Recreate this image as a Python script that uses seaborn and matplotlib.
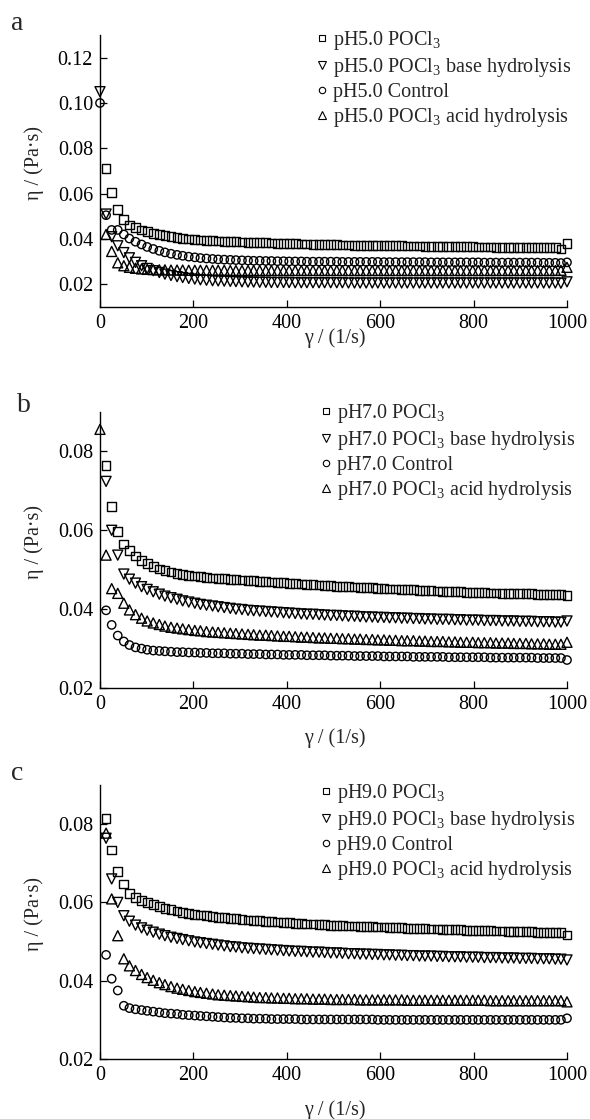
import numpy as np
import pandas as pd
import matplotlib.pyplot as plt
import seaborn as sns
from matplotlib.lines import Line2D

nan = np.nan

# shear rate (1/s), shared by all series
gamma = [0, 13, 25, 38, 51, 63, 76, 89, 101, 114,
         127, 139, 152, 165, 177, 190, 203, 215, 228, 241,
         253, 266, 279, 291, 304, 317, 329, 342, 355, 367,
         380, 393, 405, 418, 431, 443, 456, 469, 481, 494,
         507, 519, 532, 545, 557, 570, 583, 595, 608, 620,
         633, 646, 658, 671, 684, 696, 709, 722, 734, 747,
         760, 772, 785, 798, 810, 823, 836, 848, 861, 874,
         886, 899, 912, 924, 937, 950, 962, 975, 987, 1000]

# --- panel a: pH 5.0 ---
ph5_pocl3 = [nan, 0.0712, 0.0605, 0.0530, 0.0485, 0.0462, 0.0450, 0.0440, 0.0432, 0.0425,
             0.0419, 0.0414, 0.0410, 0.0406, 0.0403, 0.0400, 0.0398, 0.0396, 0.0394, 0.0392,
             0.0391, 0.0390, 0.0389, 0.0388, 0.0387, 0.0386, 0.0385, 0.0384, 0.0383, 0.0382,
             0.0381, 0.0380, 0.0380, 0.0379, 0.0378, 0.0378, 0.0377, 0.0376, 0.0376, 0.0375,
             0.0375, 0.0374, 0.0374, 0.0373, 0.0373, 0.0372, 0.0372, 0.0371, 0.0371, 0.0370,
             0.0370, 0.0370, 0.0369, 0.0369, 0.0369, 0.0368, 0.0368, 0.0368, 0.0367, 0.0367,
             0.0367, 0.0366, 0.0366, 0.0366, 0.0365, 0.0365, 0.0365, 0.0364, 0.0364, 0.0364,
             0.0363, 0.0363, 0.0363, 0.0362, 0.0362, 0.0362, 0.0361, 0.0361, 0.0356, 0.0381]
ph5_base = [0.1050, 0.0510, 0.0410, 0.0370, 0.0340, 0.0317, 0.0297, 0.0282, 0.0270, 0.0260,
            0.0252, 0.0245, 0.0239, 0.0234, 0.0230, 0.0226, 0.0223, 0.0220, 0.0218, 0.0216,
            0.0215, 0.0214, 0.0213, 0.0212, 0.0211, 0.0210, 0.0210, 0.0209, 0.0209, 0.0208,
            0.0208, 0.0208, 0.0208, 0.0207, 0.0207, 0.0207, 0.0207, 0.0207, 0.0207, 0.0207,
            0.0207, 0.0207, 0.0206, 0.0206, 0.0206, 0.0206, 0.0206, 0.0206, 0.0206, 0.0206,
            0.0206, 0.0206, 0.0206, 0.0206, 0.0206, 0.0206, 0.0206, 0.0206, 0.0206, 0.0206,
            0.0206, 0.0206, 0.0206, 0.0206, 0.0206, 0.0206, 0.0206, 0.0206, 0.0206, 0.0206,
            0.0206, 0.0206, 0.0206, 0.0206, 0.0206, 0.0206, 0.0206, 0.0206, 0.0205, 0.0211]
ph5_control = [0.1000, 0.0505, 0.0440, 0.0440, 0.0420, 0.0402, 0.0388, 0.0376, 0.0365, 0.0356,
               0.0348, 0.0341, 0.0335, 0.0330, 0.0326, 0.0322, 0.0319, 0.0316, 0.0314, 0.0312,
               0.0310, 0.0309, 0.0308, 0.0307, 0.0306, 0.0305, 0.0304, 0.0304, 0.0303, 0.0303,
               0.0302, 0.0302, 0.0301, 0.0301, 0.0301, 0.0300, 0.0300, 0.0300, 0.0300, 0.0300,
               0.0300, 0.0299, 0.0299, 0.0299, 0.0299, 0.0299, 0.0299, 0.0299, 0.0298, 0.0298,
               0.0298, 0.0298, 0.0298, 0.0298, 0.0298, 0.0298, 0.0297, 0.0297, 0.0297, 0.0297,
               0.0297, 0.0297, 0.0297, 0.0297, 0.0297, 0.0296, 0.0296, 0.0296, 0.0296, 0.0296,
               0.0296, 0.0296, 0.0296, 0.0296, 0.0296, 0.0295, 0.0295, 0.0295, 0.0294, 0.0297]
ph5_acid = [nan, 0.0420, 0.0345, 0.0295, 0.0282, 0.0275, 0.0271, 0.0268, 0.0266, 0.0265,
            0.0264, 0.0264, 0.0263, 0.0263, 0.0263, 0.0262, 0.0262, 0.0262, 0.0262, 0.0262,
            0.0262, 0.0262, 0.0261, 0.0261, 0.0261, 0.0261, 0.0261, 0.0261, 0.0261, 0.0261,
            0.0261, 0.0261, 0.0261, 0.0261, 0.0261, 0.0261, 0.0261, 0.0261, 0.0261, 0.0261,
            0.0261, 0.0261, 0.0261, 0.0261, 0.0261, 0.0261, 0.0261, 0.0261, 0.0261, 0.0261,
            0.0261, 0.0261, 0.0261, 0.0261, 0.0261, 0.0261, 0.0261, 0.0261, 0.0261, 0.0261,
            0.0261, 0.0261, 0.0261, 0.0261, 0.0261, 0.0261, 0.0261, 0.0261, 0.0261, 0.0261,
            0.0261, 0.0261, 0.0261, 0.0261, 0.0261, 0.0261, 0.0261, 0.0261, 0.0262, 0.0275]

# --- panel b: pH 7.0 ---
ph7_pocl3 = [nan, 0.0765, 0.0660, 0.0597, 0.0565, 0.0548, 0.0535, 0.0524, 0.0515, 0.0508,
             0.0502, 0.0498, 0.0494, 0.0491, 0.0488, 0.0486, 0.0484, 0.0482, 0.0480, 0.0479,
             0.0478, 0.0477, 0.0476, 0.0475, 0.0474, 0.0473, 0.0472, 0.0471, 0.0470, 0.0469,
             0.0468, 0.0467, 0.0466, 0.0465, 0.0464, 0.0463, 0.0462, 0.0461, 0.0460, 0.0459,
             0.0458, 0.0457, 0.0457, 0.0456, 0.0455, 0.0454, 0.0454, 0.0453, 0.0452, 0.0451,
             0.0451, 0.0450, 0.0449, 0.0449, 0.0448, 0.0447, 0.0447, 0.0446, 0.0445, 0.0445,
             0.0444, 0.0444, 0.0443, 0.0443, 0.0442, 0.0442, 0.0441, 0.0441, 0.0440, 0.0440,
             0.0440, 0.0439, 0.0439, 0.0439, 0.0438, 0.0438, 0.0438, 0.0437, 0.0437, 0.0435]
ph7_base = [nan, 0.0724, 0.0600, 0.0537, 0.0489, 0.0476, 0.0466, 0.0457, 0.0450, 0.0444,
            0.0438, 0.0433, 0.0429, 0.0425, 0.0421, 0.0418, 0.0415, 0.0412, 0.0410, 0.0408,
            0.0406, 0.0404, 0.0402, 0.0400, 0.0399, 0.0397, 0.0396, 0.0395, 0.0394, 0.0393,
            0.0392, 0.0391, 0.0390, 0.0389, 0.0388, 0.0387, 0.0387, 0.0386, 0.0385, 0.0384,
            0.0384, 0.0383, 0.0382, 0.0382, 0.0381, 0.0380, 0.0380, 0.0379, 0.0379, 0.0378,
            0.0378, 0.0377, 0.0377, 0.0376, 0.0376, 0.0375, 0.0375, 0.0374, 0.0374, 0.0374,
            0.0373, 0.0373, 0.0372, 0.0372, 0.0372, 0.0371, 0.0371, 0.0371, 0.0370, 0.0370,
            0.0370, 0.0369, 0.0369, 0.0369, 0.0368, 0.0368, 0.0368, 0.0367, 0.0367, 0.0370]
ph7_control = [nan, 0.0397, 0.0360, 0.0333, 0.0318, 0.0309, 0.0303, 0.0300, 0.0297, 0.0295,
               0.0294, 0.0293, 0.0292, 0.0291, 0.0291, 0.0290, 0.0290, 0.0289, 0.0289, 0.0288,
               0.0288, 0.0288, 0.0287, 0.0287, 0.0287, 0.0286, 0.0286, 0.0286, 0.0285, 0.0285,
               0.0285, 0.0284, 0.0284, 0.0284, 0.0284, 0.0283, 0.0283, 0.0283, 0.0283, 0.0282,
               0.0282, 0.0282, 0.0282, 0.0281, 0.0281, 0.0281, 0.0281, 0.0281, 0.0280, 0.0280,
               0.0280, 0.0280, 0.0280, 0.0279, 0.0279, 0.0279, 0.0279, 0.0279, 0.0279, 0.0278,
               0.0278, 0.0278, 0.0278, 0.0278, 0.0278, 0.0278, 0.0277, 0.0277, 0.0277, 0.0277,
               0.0277, 0.0277, 0.0277, 0.0277, 0.0276, 0.0276, 0.0276, 0.0276, 0.0276, 0.0271]
ph7_acid = [0.0856, 0.0537, 0.0452, 0.0440, 0.0415, 0.0398, 0.0386, 0.0377, 0.0370, 0.0365,
            0.0361, 0.0357, 0.0354, 0.0352, 0.0350, 0.0348, 0.0346, 0.0345, 0.0343, 0.0342,
            0.0341, 0.0340, 0.0339, 0.0338, 0.0337, 0.0336, 0.0335, 0.0334, 0.0334, 0.0333,
            0.0332, 0.0331, 0.0331, 0.0330, 0.0329, 0.0329, 0.0328, 0.0327, 0.0327, 0.0326,
            0.0326, 0.0325, 0.0325, 0.0324, 0.0324, 0.0323, 0.0323, 0.0322, 0.0322, 0.0321,
            0.0321, 0.0320, 0.0320, 0.0320, 0.0319, 0.0319, 0.0318, 0.0318, 0.0318, 0.0317,
            0.0317, 0.0316, 0.0316, 0.0316, 0.0315, 0.0315, 0.0315, 0.0314, 0.0314, 0.0314,
            0.0313, 0.0313, 0.0313, 0.0312, 0.0312, 0.0312, 0.0311, 0.0311, 0.0311, 0.0316]

# --- panel c: pH 9.0 ---
ph9_pocl3 = [nan, 0.0815, 0.0734, 0.0680, 0.0647, 0.0622, 0.0612, 0.0605, 0.0599, 0.0594,
             0.0589, 0.0585, 0.0581, 0.0578, 0.0575, 0.0572, 0.0570, 0.0568, 0.0566, 0.0564,
             0.0562, 0.0561, 0.0559, 0.0558, 0.0557, 0.0555, 0.0554, 0.0553, 0.0552, 0.0551,
             0.0550, 0.0549, 0.0548, 0.0547, 0.0546, 0.0545, 0.0545, 0.0544, 0.0543, 0.0542,
             0.0542, 0.0541, 0.0540, 0.0540, 0.0539, 0.0538, 0.0538, 0.0537, 0.0537, 0.0536,
             0.0535, 0.0535, 0.0534, 0.0534, 0.0533, 0.0533, 0.0532, 0.0532, 0.0531, 0.0531,
             0.0530, 0.0530, 0.0529, 0.0529, 0.0528, 0.0528, 0.0528, 0.0527, 0.0527, 0.0526,
             0.0526, 0.0526, 0.0525, 0.0525, 0.0524, 0.0524, 0.0524, 0.0523, 0.0523, 0.0517]
ph9_base = [nan, 0.0764, 0.0660, 0.0600, 0.0566, 0.0552, 0.0542, 0.0535, 0.0529, 0.0524,
            0.0519, 0.0515, 0.0511, 0.0508, 0.0505, 0.0502, 0.0499, 0.0497, 0.0495, 0.0493,
            0.0491, 0.0489, 0.0487, 0.0486, 0.0484, 0.0483, 0.0482, 0.0481, 0.0480, 0.0479,
            0.0478, 0.0477, 0.0476, 0.0475, 0.0475, 0.0474, 0.0473, 0.0473, 0.0472, 0.0471,
            0.0471, 0.0470, 0.0469, 0.0469, 0.0468, 0.0468, 0.0467, 0.0467, 0.0466, 0.0466,
            0.0465, 0.0465, 0.0464, 0.0464, 0.0463, 0.0463, 0.0463, 0.0462, 0.0462, 0.0461,
            0.0461, 0.0461, 0.0460, 0.0460, 0.0460, 0.0459, 0.0459, 0.0459, 0.0458, 0.0458,
            0.0458, 0.0457, 0.0457, 0.0457, 0.0456, 0.0456, 0.0456, 0.0455, 0.0455, 0.0453]
ph9_control = [nan, 0.0466, 0.0405, 0.0375, 0.0336, 0.0330, 0.0327, 0.0325, 0.0323, 0.0321,
               0.0319, 0.0317, 0.0316, 0.0315, 0.0313, 0.0312, 0.0311, 0.0310, 0.0309, 0.0308,
               0.0307, 0.0306, 0.0305, 0.0305, 0.0304, 0.0304, 0.0303, 0.0303, 0.0303, 0.0302,
               0.0302, 0.0302, 0.0302, 0.0302, 0.0301, 0.0301, 0.0301, 0.0301, 0.0301, 0.0301,
               0.0301, 0.0301, 0.0301, 0.0301, 0.0301, 0.0301, 0.0301, 0.0300, 0.0300, 0.0300,
               0.0300, 0.0300, 0.0300, 0.0300, 0.0300, 0.0300, 0.0300, 0.0300, 0.0300, 0.0300,
               0.0300, 0.0300, 0.0300, 0.0300, 0.0300, 0.0300, 0.0300, 0.0300, 0.0300, 0.0300,
               0.0300, 0.0300, 0.0300, 0.0300, 0.0300, 0.0300, 0.0300, 0.0300, 0.0300, 0.0304]
ph9_acid = [nan, 0.0777, 0.0609, 0.0515, 0.0456, 0.0438, 0.0426, 0.0416, 0.0408, 0.0401,
            0.0395, 0.0390, 0.0385, 0.0381, 0.0378, 0.0375, 0.0372, 0.0370, 0.0368, 0.0366,
            0.0364, 0.0363, 0.0362, 0.0361, 0.0360, 0.0359, 0.0358, 0.0357, 0.0357, 0.0356,
            0.0356, 0.0355, 0.0355, 0.0354, 0.0354, 0.0354, 0.0353, 0.0353, 0.0353, 0.0352,
            0.0352, 0.0352, 0.0352, 0.0352, 0.0351, 0.0351, 0.0351, 0.0351, 0.0351, 0.0351,
            0.0351, 0.0351, 0.0350, 0.0350, 0.0350, 0.0350, 0.0350, 0.0350, 0.0350, 0.0350,
            0.0350, 0.0350, 0.0350, 0.0350, 0.0350, 0.0350, 0.0349, 0.0349, 0.0349, 0.0349,
            0.0349, 0.0349, 0.0349, 0.0349, 0.0349, 0.0349, 0.0349, 0.0349, 0.0349, 0.0346]

series_names = ["POCl$_3$", "POCl$_3$ base hydrolysis", "Control", "POCl$_3$ acid hydrolysis"]
series_markers = dict(zip(series_names, ["s", "v", "o", "^"]))
series_sizes = dict(zip(series_names, [40, 52, 36, 52]))

panels = [
    ("a", "pH5.0", [ph5_pocl3, ph5_base, ph5_control, ph5_acid],
     (0.01, 0.13), [0.02, 0.04, 0.06, 0.08, 0.10, 0.12]),
    ("b", "pH7.0", [ph7_pocl3, ph7_base, ph7_control, ph7_acid],
     (0.02, 0.09), [0.02, 0.04, 0.06, 0.08]),
    ("c", "pH9.0", [ph9_pocl3, ph9_base, ph9_control, ph9_acid],
     (0.02, 0.09), [0.02, 0.04, 0.06, 0.08]),
]

# layout in pixels of the 590x1119 canvas: (top, bottom) of each axes box
W, H = 590, 1119
ax_left, ax_right = 100, 567
ax_rows = [(35, 307), (412, 688), (785, 1059)]
letter_pos = [(17, 23), (24, 405), (17, 773)]
legend_anchor = [(316, 29), (320, 402), (320, 782)]
xlabel_y = [338, 738, 1110]

sns.set_style("ticks")
plt.rcParams["font.family"] = ["Liberation Serif", "DejaVu Serif"]
plt.rcParams["mathtext.default"] = "regular"
plt.rcParams["axes.linewidth"] = 1.0

fig = plt.figure(figsize=(W / 100, H / 100), dpi=100)

for i, (letter, ph, values, ylim, yticks) in enumerate(panels):
    top, bottom = ax_rows[i]
    ax = fig.add_axes([ax_left / W, 1 - bottom / H,
                       (ax_right - ax_left) / W, (bottom - top) / H])

    frames = []
    for name, eta in zip(series_names, values):
        frames.append(pd.DataFrame({"gamma": gamma, "eta": eta, "series": name}))
    df = pd.concat(frames, ignore_index=True).dropna()

    sns.scatterplot(
        data=df, x="gamma", y="eta",
        style="series", style_order=series_names, markers=series_markers,
        size="series", size_order=series_names, sizes=series_sizes,
        fc="none", ec="black", linewidth=1.0,
        clip_on=False, legend=False, ax=ax, zorder=3
    )

    ax.set_xlim(0, 1000)
    ax.set_ylim(*ylim)
    ax.set_xticks([0, 200, 400, 600, 800, 1000])
    ax.set_yticks(yticks)
    ax.set_yticklabels([f"{v:.2f}" for v in yticks])
    sns.despine(ax=ax)
    for side in ["left", "bottom"]:
        ax.spines[side].set_color("black")
    ax.tick_params(direction="in", length=5, width=0.9, labelsize=14.5,
                   colors="black", pad=5)

    ax.set_xlabel("γ / (1/s)", fontsize=14.5)
    ax.set_ylabel("η / (Pa·s)", fontsize=14.5)
    ax.xaxis.set_label_coords(0.503, (bottom - xlabel_y[i]) / (bottom - top),
                              transform=ax.transAxes)
    ax.xaxis.label.set_va("center")
    ax.yaxis.set_label_coords((34 - ax_left) / (ax_right - ax_left), 0.53)
    ax.yaxis.label.set_va("center")

    handles = [
        Line2D([], [], linestyle="", marker=series_markers[n],
               markersize=4.6 if series_markers[n] in "so" else 5.2,
               mfc="none", mec="black", mew=0.8)
        for n in series_names
    ]
    lx, ly = legend_anchor[i]
    ax.legend(handles, [f"{ph} {n}" for n in series_names],
              loc="upper left",
              bbox_to_anchor=((lx - ax_left) / (ax_right - ax_left),
                              (bottom - ly) / (bottom - top)),
              frameon=False, fontsize=14.5, borderpad=0, borderaxespad=0,
              handlelength=0.6, handletextpad=0.25, labelspacing=0.2)

    lxp, lyp = letter_pos[i]
    fig.text(lxp / W, 1 - lyp / H, letter, fontsize=20, ha="center", va="center")

fig.savefig("out.png", dpi=100)
